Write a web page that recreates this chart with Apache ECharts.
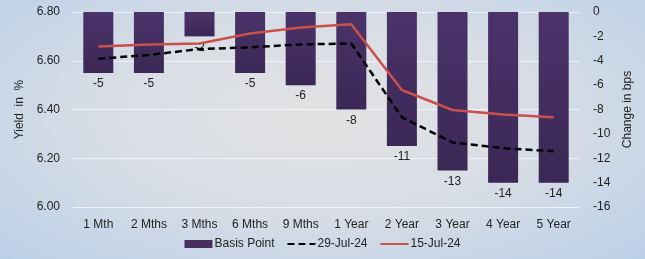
<!DOCTYPE html>
<html>
<head>
<meta charset="utf-8">
<script src="https://cdn.jsdelivr.net/npm/echarts@6/dist/echarts.min.js"></script>
<style>
    html, body {
        margin: 0;
        padding: 0;
    }
    #chart {
        width: 645px;
        height: 259px;
        background: radial-gradient(ellipse at 50% 45%, #e2e2e3 0%, #d9dee5 45%, #bbd0e8 100%);
    }
</style>
</head>
<body>
<div id="chart"></div>
<script>
const categories = ['1 Mth', '2 Mths', '3 Mths', '6 Mths', '9 Mths', '1 Year', '2 Year', '3 Year', '4 Year', '5 Year']
const basisPoint = [-5, -5, -2, -5, -6, -8, -11, -13, -14, -14]
const jul29 = [6.608, 6.624, 6.648, 6.655, 6.667, 6.671, 6.368, 6.265, 6.241, 6.229]
const jul15 = [6.658, 6.667, 6.671, 6.712, 6.736, 6.750, 6.480, 6.398, 6.379, 6.368]

const font = 'Liberation Sans'
let myChart = echarts.init(document.getElementById('chart'));

let option = {
    textStyle: { fontFamily: font },
    animation: false,
    grid: {
        left: 73,
        right: 66,
        top: 12,
        bottom: 52
    },
    legend: {
        bottom: 4,
        left: 'center',
        itemGap: 12,
        textStyle: { color: '#222', fontSize: 12, fontFamily: font, padding: [0, 0, 0, -3] },
        data: [
            { name: 'Basis Point', icon: 'rect', itemStyle: { color: '#47305f' } },
            { name: '29-Jul-24', itemStyle: { opacity: 0 } },
            { name: '15-Jul-24', itemStyle: { opacity: 0 } }
        ],
        itemWidth: 28,
        itemHeight: 8
    },
    xAxis: {
        type: 'category',
        data: categories,
        axisLine: { show: false },
        axisTick: { show: false },
        axisLabel: { color: '#222', fontSize: 12, margin: 12 }
    },
    yAxis: [
        {
            type: 'value',
            min: 6.0,
            max: 6.8,
            interval: 0.2,
            name: 'Yield  in  %',
            nameLocation: 'middle',
            nameGap: 46,
            nameTextStyle: { color: '#222', fontSize: 12 },
            axisLabel: {
                color: '#222',
                fontSize: 12,
                margin: 13,
                formatter: v => v.toFixed(2)
            },
            splitLine: { lineStyle: { color: '#eef3fa', width: 1 } },
            axisLine: { show: false },
            axisTick: { show: false }
        },
        {
            type: 'value',
            min: -16,
            max: 0,
            interval: 2,
            name: 'Change in bps',
            nameLocation: 'middle',
            nameGap: 40,
            nameRotate: 90,
            nameTextStyle: { color: '#222', fontSize: 12 },
            axisLabel: { color: '#222', fontSize: 12, margin: 14 },
            splitLine: { show: false },
            axisLine: { show: false },
            axisTick: { show: false }
        }
    ],
    series: [
        {
            name: 'Basis Point',
            type: 'bar',
            yAxisIndex: 1,
            data: basisPoint,
            barWidth: 30,
            itemStyle: {
                color: new echarts.graphic.LinearGradient(0, 0, 0, 1, [
                    { offset: 0, color: '#4b3369' },
                    { offset: 1, color: '#3b2856' }
                ])
            },
            label: {
                show: true,
                position: 'bottom',
                distance: 5,
                color: '#222',
                fontSize: 12
            }
        },
        {
            name: '29-Jul-24',
            type: 'line',
            data: jul29,
            symbol: 'none',
            lineStyle: { color: '#000', width: 2.5, type: [7, 4] },
            itemStyle: { color: '#000' }
        },
        {
            name: '15-Jul-24',
            type: 'line',
            data: jul15,
            symbol: 'none',
            lineStyle: { color: '#c9504b', width: 2.5 },
            itemStyle: { color: '#c9504b' }
        }
    ]
}

myChart.setOption(option, true);
window.addEventListener('resize', () => {
    myChart.resize();
})
</script>
</body>
</html>
